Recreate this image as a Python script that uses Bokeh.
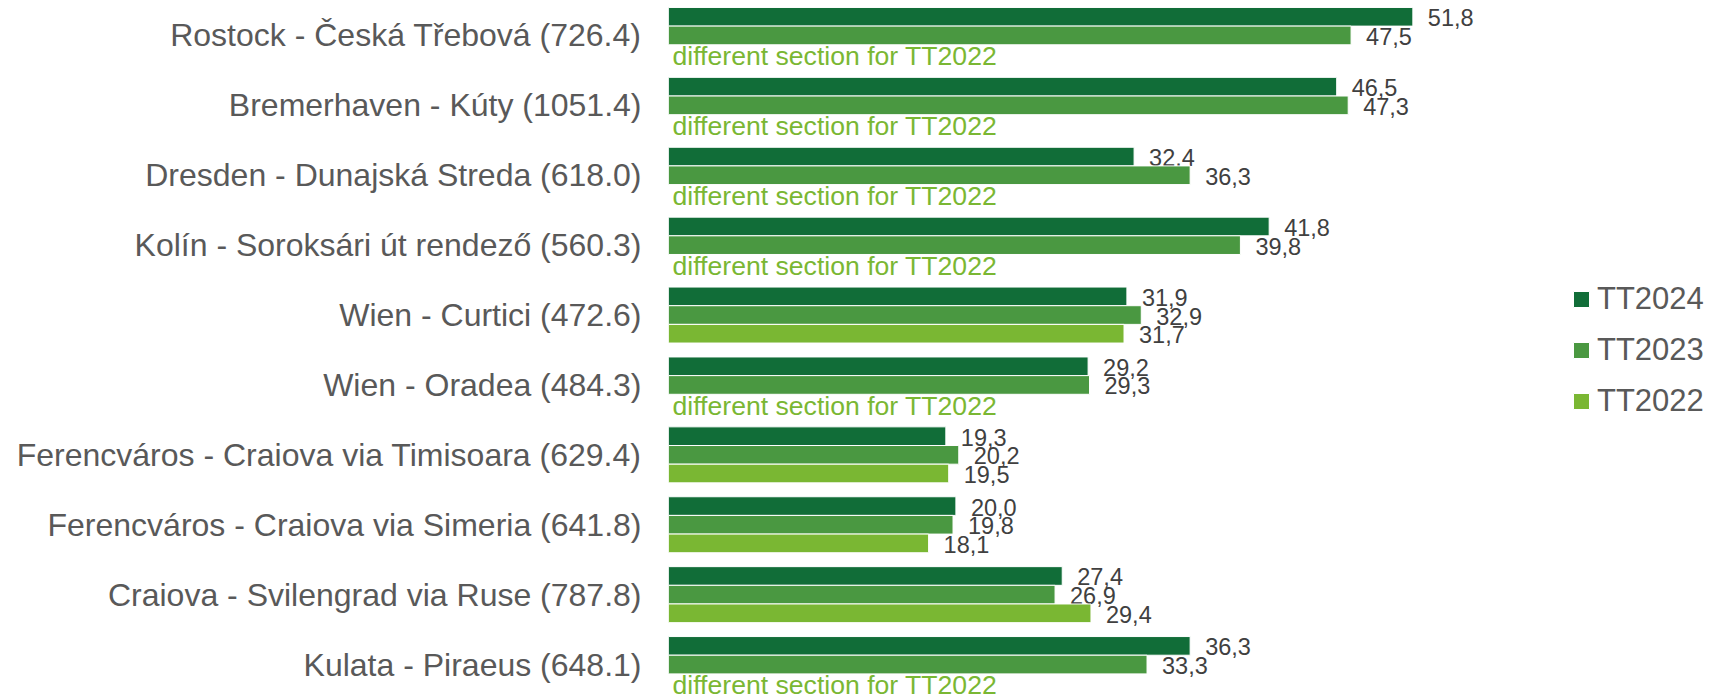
import numpy as np
from bokeh.plotting import figure
from bokeh.models import ColumnDataSource, FactorRange, Range1d, Legend, LegendItem
from bokeh.transform import dodge
from bokeh.core.properties import value
from bokeh.embed import file_html
from bokeh.resources import INLINE

routes = [
    "Rostock - Česká Třebová (726.4)",
    "Bremerhaven - Kúty (1051.4)",
    "Dresden - Dunajská Streda (618.0)",
    "Kolín - Soroksári út rendező (560.3)",
    "Wien - Curtici (472.6)",
    "Wien - Oradea (484.3)",
    "Ferencváros - Craiova via Timisoara (629.4)",
    "Ferencváros - Craiova via Simeria (641.8)",
    "Craiova - Svilengrad via Ruse (787.8)",
    "Kulata - Piraeus (648.1)",
]
tt2024 = [51.8, 46.5, 32.4, 41.8, 31.9, 29.2, 19.3, 20.0, 27.4, 36.3]
tt2023 = [47.5, 47.3, 36.3, 39.8, 32.9, 29.3, 20.2, 19.8, 26.9, 33.3]
tt2022 = [np.nan, np.nan, np.nan, np.nan, 31.7, np.nan, 19.5, 18.1, 29.4, np.nan]
series_names = ["TT2024", "TT2023", "TT2022"]
series_colors = ["#116d38", "#4a9841", "#7ab733"]
note_text = "different section for TT2022"

FONT = value("Liberation Sans")
TEXT_GREY = "#595959"
LABEL_GREY = "#404040"

p = figure(
    width=1717, height=699,
    y_range=FactorRange(factors=routes[::-1]),
    x_range=Range1d(0, 73.0),
    output_backend="svg", toolbar_location=None,
    min_border_left=668, min_border_right=0, min_border_top=0, min_border_bottom=0,
)
p.outline_line_color = None
p.xgrid.visible = False
p.ygrid.visible = False
p.xaxis.visible = False
yax = p.yaxis[0]
yax.axis_line_color = None
yax.major_tick_line_color = None
yax.minor_tick_line_color = None
yax.major_label_text_font_size = "32px"
yax.major_label_text_font = "Liberation Sans"
yax.major_label_text_color = TEXT_GREY
yax.major_label_standoff = 21

bar_h = 0.267
offsets = [bar_h, 0.0, -bar_h]
renderers = []
for name, vals, color, off in zip(series_names, [tt2024, tt2023, tt2022], series_colors, offsets):
    v = np.array(vals, dtype=float)
    mask = ~np.isnan(v)
    src = ColumnDataSource(dict(
        route=[r for r, m in zip(routes, mask) if m],
        val=v[mask],
        lab=[f"{x:.1f}".replace(".", ",") for x in v[mask]],
    ))
    ydod = dodge("route", off, range=p.y_range)
    r = p.hbar(y=ydod, left=0, right="val", height=bar_h, source=src,
               fill_color=color, line_color="white", line_width=1)
    renderers.append(r)
    p.text(x="val", y=ydod, text="lab", source=src, x_offset=15, y_offset=1,
           text_baseline="middle", text_align="left", text_font_size="23.5px",
           text_font=FONT, text_color=LABEL_GREY)

# notes where TT2022 is a different section
v22 = np.array(tt2022, dtype=float)
note_src = ColumnDataSource(dict(
    route=[r for r, x in zip(routes, v22) if np.isnan(x)],
    txt=[note_text for x in v22 if np.isnan(x)],
))
p.text(x=0, y=dodge("route", -bar_h, range=p.y_range), text="txt", source=note_src,
       x_offset=4, y_offset=2, text_baseline="middle", text_align="left",
       text_font_size="26.6px", text_font=FONT, text_color=series_colors[2])

legend = Legend(
    items=[LegendItem(label=n, renderers=[r]) for n, r in zip(series_names, renderers)],
    location=(903, 280), orientation="vertical",
    padding=0, margin=0, spacing=15,
    glyph_width=20, glyph_height=20, label_height=36, label_standoff=6,
    label_text_font_size="31px", label_text_font="Liberation Sans",
    label_text_color=TEXT_GREY,
    border_line_color=None, background_fill_alpha=0,
)
p.add_layout(legend, "center")

open("out.html", "w").write(file_html(p, INLINE))
